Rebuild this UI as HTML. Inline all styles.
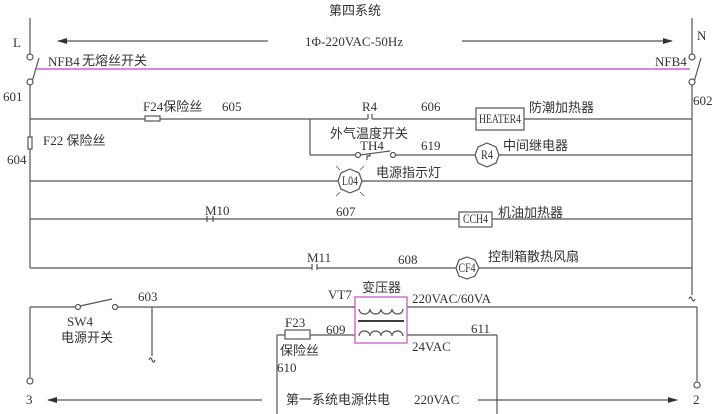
<!DOCTYPE html>
<html><head><meta charset="utf-8"><style>
html,body{margin:0;padding:0;background:#fff;}
svg{display:block;}
text{font-family:"Liberation Serif","Noto Serif CJK SC","Noto Sans CJK SC",serif;fill:#333;font-size:13px;}
.c{font-family:"Liberation Serif","Noto Sans CJK SC",sans-serif;}
.m{text-anchor:middle;}
</style></head><body>
<svg width="720" height="414" viewBox="0 0 720 414" xmlns="http://www.w3.org/2000/svg">
<defs><marker id="ah" markerWidth="10" markerHeight="6" refX="9" refY="3" orient="auto" markerUnits="userSpaceOnUse"><path d="M0,0 L10,3 L0,6 Z" fill="#333"/></marker></defs>
<g stroke="#555" stroke-width="1.2" fill="none">
<line x1="30" y1="18" x2="30" y2="54"/>
<circle cx="30" cy="57" r="3" fill="#fff"/>
<line x1="32" y1="82" x2="39" y2="58"/>
<circle cx="30" cy="82" r="3" fill="#fff"/>
<line x1="30" y1="85" x2="30" y2="268"/>
<rect x="28" y="137" width="4" height="12" fill="#fff"/>
<line x1="268" y1="41" x2="58" y2="41" marker-end="url(#ah)"/>
<line x1="462" y1="41" x2="672" y2="41" marker-end="url(#ah)"/>
<line x1="692" y1="18" x2="692" y2="54"/>
<circle cx="692" cy="57" r="3" fill="#fff"/>
<line x1="694" y1="82" x2="701" y2="58"/>
<circle cx="692" cy="82" r="3" fill="#fff"/>
<line x1="692" y1="85" x2="692" y2="295"/>
<path d="M689,299 q1.5,-4 3,0 q1.5,4 3,0"/>
<line x1="30" y1="119" x2="145" y2="119"/>
<rect x="145" y="116" width="15" height="5" fill="#fff"/>
<line x1="160" y1="119" x2="368" y2="119"/>
<line x1="372" y1="119" x2="476" y2="119"/>
<line x1="368" y1="114" x2="368" y2="119"/><line x1="372" y1="114" x2="372" y2="119"/>
<rect x="476" y="108" width="48" height="22" fill="#fff"/>
<line x1="524" y1="119" x2="692" y2="119"/>
<line x1="310" y1="119" x2="310" y2="155"/>
<line x1="310" y1="155" x2="355" y2="155"/>
<circle cx="358" cy="155" r="2.5" fill="#fff"/>
<line x1="360" y1="155" x2="390" y2="151"/>
<circle cx="393" cy="155" r="2.5" fill="#fff"/>
<path d="M370,153 v3 h-3 v4"/>
<line x1="396" y1="155" x2="476" y2="155"/>
<polygon points="487,143 496,147 499,155 496,163 487,167 478,163 475,155 478,147" fill="#fff"/>
<line x1="499" y1="155" x2="692" y2="155"/>
<line x1="30" y1="181" x2="338" y2="181"/>
<polygon points="350,169 359,173 362,181 359,189 350,193 341,189 338,181 341,173" fill="#fff"/>
<line x1="362" y1="181" x2="692" y2="181"/>
<g stroke-width="0.8"><line x1="340" y1="170" x2="336" y2="166"/><line x1="360" y1="170" x2="364" y2="166"/><line x1="340" y1="192" x2="336" y2="196"/><line x1="360" y1="192" x2="364" y2="196"/></g>
<line x1="30" y1="219" x2="460" y2="219"/>
<path d="M207,216 v6 M213,216 v6"/>
<rect x="459" y="212" width="33" height="15" fill="#fff"/>
<line x1="492" y1="219" x2="692" y2="219"/>
<line x1="30" y1="268" x2="312" y2="268"/>
<path d="M312,264 v6 M317,264 v6"/>
<line x1="317" y1="268" x2="456" y2="268"/>
<polygon points="467,257 475,260 479,268 475,276 467,279 459,276 456,268 459,260" fill="#fff"/>
<line x1="479" y1="268" x2="692" y2="268"/>
<line x1="30" y1="307" x2="30" y2="377"/>
<circle cx="30" cy="381" r="3" fill="#fff"/>
<line x1="30" y1="307" x2="75" y2="307"/>
<circle cx="78" cy="307" r="2.5" fill="#fff"/>
<line x1="80" y1="306" x2="112" y2="299"/>
<circle cx="115" cy="307" r="2.5" fill="#fff"/>
<line x1="118" y1="307" x2="697" y2="307"/>
<line x1="152" y1="307" x2="152" y2="356"/>
<path d="M149,360 q1.5,-4 3,0 q1.5,4 3,0"/>
<line x1="697" y1="307" x2="697" y2="381"/>
<circle cx="697" cy="385" r="3" fill="#fff"/>
<line x1="277" y1="335" x2="277" y2="414"/>
<line x1="277" y1="335" x2="285" y2="335"/>
<rect x="285" y="330" width="25" height="9" fill="#fff"/>
<line x1="310" y1="335" x2="497" y2="335"/>
<line x1="497" y1="335" x2="497" y2="414"/>
<rect x="355" y="297" width="52" height="46" stroke="#c64fc6" fill="#fff"/>
<path d="M359,309 a5.5,5 0 0 0 11,0 a5.5,5 0 0 0 11,0 a5.5,5 0 0 0 11,0 a5.5,5 0 0 0 11,0"/>
<line x1="358" y1="321" x2="404" y2="321" stroke="#222" stroke-width="1.8"/>
<path d="M359,336 a5.5,5 0 0 1 11,0 a5.5,5 0 0 1 11,0 a5.5,5 0 0 1 11,0 a5.5,5 0 0 1 11,0"/>
<line x1="262" y1="400" x2="48" y2="400" marker-end="url(#ah)"/>
<line x1="478" y1="400" x2="677" y2="400" marker-end="url(#ah)"/>
</g>
<line x1="36" y1="69" x2="690" y2="69" stroke="#d23ad2" stroke-width="1.2"/>
<text x="329" y="15" class="c">第四系统</text>
<text x="305" y="46">1Φ-220VAC-50Hz</text>
<text x="13" y="47" font-size="15">L</text>
<text x="697" y="40" font-size="15">N</text>
<text x="48" y="66" font-size="12">NFB4</text>
<text x="82" y="65" class="c">无熔丝开关</text>
<text x="655" y="66" font-size="12">NFB4</text>
<text x="3" y="101">601</text>
<text x="693" y="105">602</text>
<text x="7" y="164">604</text>
<text x="43" y="145" class="c">F22 保险丝</text>
<text x="143" y="111" class="c">F24保险丝</text>
<text x="222" y="111">605</text>
<text x="362" y="111">R4</text>
<text x="421" y="111">606</text>
<text x="500" y="123" class="m" font-size="9" textLength="42" lengthAdjust="spacingAndGlyphs">HEATER4</text>
<text x="529" y="112" class="c">防潮加热器</text>
<text x="330" y="138" class="c">外气温度开关</text>
<text x="360" y="150">TH4</text>
<text x="421" y="150">619</text>
<text x="487" y="159" class="m" font-size="9" textLength="12" lengthAdjust="spacingAndGlyphs">R4</text>
<text x="503" y="150" class="c">中间继电器</text>
<text x="350" y="185" class="m" font-size="9" textLength="16" lengthAdjust="spacingAndGlyphs">L04</text>
<text x="376" y="177" class="c">电源指示灯</text>
<text x="205" y="215">M10</text>
<text x="336" y="216">607</text>
<text x="475.5" y="223" class="m" font-size="9" textLength="25" lengthAdjust="spacingAndGlyphs">CCH4</text>
<text x="498" y="217" class="c">机油加热器</text>
<text x="307" y="262">M11</text>
<text x="398" y="264">608</text>
<text x="467" y="272" class="m" font-size="9" textLength="17" lengthAdjust="spacingAndGlyphs">CF4</text>
<text x="488" y="261" class="c">控制箱散热风扇</text>
<text x="138" y="301">603</text>
<text x="67" y="326" font-size="12">SW4</text>
<text x="61" y="342" class="c">电源开关</text>
<text x="328" y="299">VT7</text>
<text x="362" y="292" class="c">变压器</text>
<text x="412" y="303">220VAC/60VA</text>
<text x="285" y="327">F23</text>
<text x="326" y="334">609</text>
<text x="471" y="333">611</text>
<text x="412" y="351">24VAC</text>
<text x="280" y="355" class="c">保险丝</text>
<text x="277" y="372">610</text>
<text x="26" y="404">3</text>
<text x="693" y="404">2</text>
<text x="286" y="404" class="c">第一系统电源供电</text>
<text x="414" y="404">220VAC</text>
</svg>
</body></html>
